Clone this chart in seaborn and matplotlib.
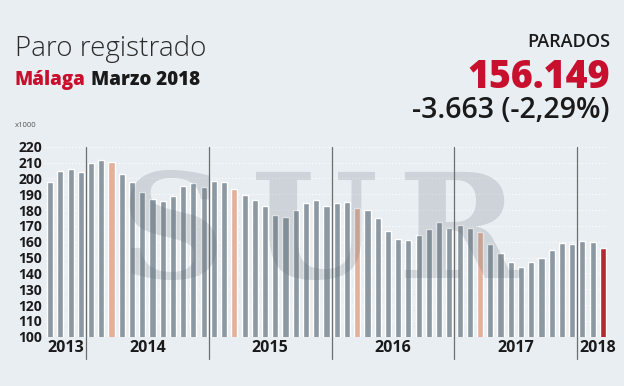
import numpy as np
import pandas as pd
import seaborn as sns
import matplotlib.pyplot as plt

# Paro registrado en Málaga (miles), sep 2013 - mar 2018
anios = [2013, 2014, 2015, 2016, 2017, 2018]
paro_2013 = [197.5, 204.6, 206.1, 203.8]  # sep-dic
paro_2014 = [209.5, 211.4, 210.5, 202.7, 197.5, 191.2, 187.2, 185.9, 188.6, 195.2, 197.1, 194.5]
paro_2015 = [198.3, 197.9, 193.3, 189.7, 186.3, 182.5, 176.6, 175.6, 180.0, 184.2, 186.3, 182.5]
paro_2016 = [184.2, 185.0, 181.5, 180.0, 174.9, 166.9, 161.5, 161.0, 164.2, 168.2, 172.4, 169.0]
paro_2017 = [170.3, 169.0, 165.9, 158.3, 153.0, 147.2, 144.2, 147.2, 149.9, 154.7, 159.2, 158.3]
paro_2018 = [160.6, 159.8, 156.1]  # ene-mar
mes_inicio = [9, 1, 1, 1, 1, 1]
y_ticks = list(range(100, 221, 10))

series = [paro_2013, paro_2014, paro_2015, paro_2016, paro_2017, paro_2018]
rows = []
for anio, m0, vals in zip(anios, mes_inicio, series):
    for i, v in enumerate(vals):
        mes = m0 + i
        tipo = "marzo" if mes == 3 else "normal"
        rows.append({"mes": f"{anio}-{mes:02d}", "parados": v, "tipo": tipo})
rows[-1]["tipo"] = "actual"
df = pd.DataFrame(rows)

BG = "#e9eef2"
colores = {"normal": "#8899a6", "marzo": "#efab90", "actual": "#d0101e"}

sns.set_theme(style="white")
plt.rcParams["font.family"] = ["Open Sans", "DejaVu Sans"]

fig = plt.figure(figsize=(6.24, 3.86), dpi=100, facecolor=BG)
ax = fig.add_axes([45 / 624, 0.1277, 563 / 624, 0.492])
ax.set_facecolor(BG)

sns.barplot(data=df, x="mes", y="parados", hue="tipo", palette=colores,
            dodge=False, width=0.6, legend=False, ax=ax, zorder=2)

ax.set_ylim(100, 220)
ax.set_xlim(-0.5, len(df) - 0.5)
ax.set_yticks(y_ticks)
ax.set_yticklabels([str(t) for t in y_ticks], fontsize=10, fontweight="bold", color="#1a1a1a")
ax.tick_params(axis="y", length=0, pad=2)
ax.set_xticks([])
ax.set_xlabel("")
ax.set_ylabel("")
for s in ax.spines.values():
    s.set_visible(False)
ax.yaxis.grid(True, linestyle=(0, (1, 2)), color="white", linewidth=0.8, zorder=0)
ax.set_axisbelow(True)

# separadores de año y etiquetas
lens = [len(v) for v in series]
bordes = np.cumsum([0] + lens)
for b in bordes[1:-1]:
    ax.plot([b - 0.5, b - 0.5], [86, 220], color="#6b6f72", linewidth=0.9,
            clip_on=False, zorder=3)
for anio, a, b in zip(anios, bordes[:-1], bordes[1:]):
    xc = (a + b - 1) / 2
    if anio == 2018:
        xc += 0.5
    ax.text(xc, 92.6, str(anio), ha="center", va="center", fontsize=11.5,
            fontweight="bold", color="#1a1a1a", clip_on=False)

# marca de agua
for letra, xp in zip("SUR", [172, 315, 458]):
    fig.text(xp / 624, 1 - 237 / 386, letra, ha="center", va="center",
             fontsize=105, fontweight="bold", family="DejaVu Serif",
             color="#5f6a72", alpha=0.2, zorder=5)

# textos
fig.text(15 / 624, 1 - 56 / 386, "Paro registrado", fontsize=20, fontweight="light",
         color="#2a2a2a", va="baseline")
t_mal = fig.text(15 / 624, 1 - 85 / 386, "Málaga", fontsize=13.5, fontweight=800,
                 color="#c8102e", va="baseline")
r = fig.canvas.get_renderer()
x_fin = t_mal.get_window_extent(r).x1
fig.text((x_fin + 5) / 624, 1 - 85 / 386, "Marzo 2018", fontsize=13.5, fontweight=800,
         color="#1a1a1a", va="baseline")
fig.text(15 / 624, 1 - 127 / 386, "x1000", fontsize=5.5, color="#555555", va="baseline")

fig.text(610 / 624, 1 - 47 / 386, "PARADOS", fontsize=13, fontweight="semibold",
         color="#1a1a1a", ha="right", va="baseline")
fig.text(610 / 624, 1 - 88 / 386, "156.149", fontsize=27, fontweight=800,
         color="#c8102e", ha="right", va="baseline")
fig.text(610 / 624, 1 - 118 / 386, "-3.663 (-2,29%)", fontsize=20.5, fontweight="semibold",
         color="#1a1a1a", ha="right", va="baseline")

fig.savefig("out.png", dpi=100, facecolor=BG)
